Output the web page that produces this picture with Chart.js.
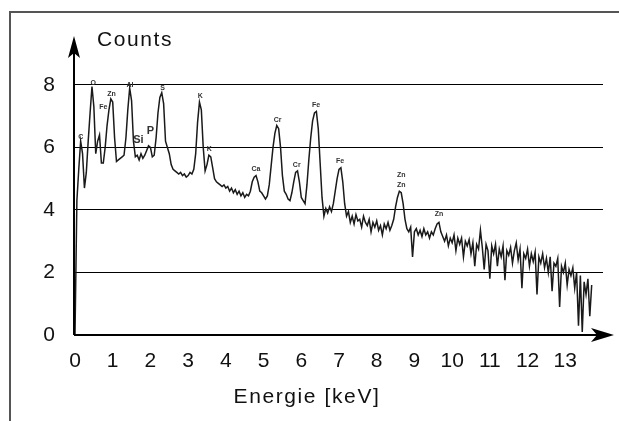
<!DOCTYPE html>
<html>
<head>
<meta charset="utf-8">
<script src="https://cdn.jsdelivr.net/npm/chart.js@4.4.1/dist/chart.umd.min.js"></script>
<style>
  html, body { margin: 0; padding: 0; background: #fff; }
  canvas { display: block; }
</style>
</head>
<body>
<canvas id="edx" width="619" height="421"></canvas>
<script>
// EDX spectrum, counts every 0.05 keV
const stepKeV = 0.05;
const counts = [
  // 0 - 1 keV
  0, 4.3, 5.3, 6.2, 5.8, 4.7, 5.2, 6.2, 7.1, 7.95, 7.3, 5.8, 6.2, 6.4, 5.5, 5.5, 6.0, 6.7, 7.2, 7.55,
  // 1 - 2 keV
  7.45, 6.3, 5.55, 5.6, 5.65, 5.7, 5.75, 6.3, 7.2, 7.9, 7.5, 6.2, 5.7, 5.75, 5.6, 5.8, 5.65, 5.75, 5.9, 6.05,
  // 2 - 3 keV
  6.0, 5.7, 5.75, 6.3, 7.1, 7.6, 7.75, 7.4, 6.2, 6.0, 5.8, 5.45, 5.3, 5.25, 5.2, 5.15, 5.2, 5.1, 5.15, 5.05,
  // 3 - 4 keV
  5.1, 5.2, 5.15, 5.3, 5.8, 6.8, 7.45, 7.2, 6.0, 5.25, 5.45, 5.75, 5.7, 5.35, 5.0, 4.9, 4.85, 4.8, 4.75, 4.8,
  // 4 - 5 keV
  4.7, 4.75, 4.6, 4.7, 4.55, 4.65, 4.5, 4.6, 4.45, 4.55, 4.4, 4.5, 4.45, 4.6, 4.9, 5.05, 5.1, 4.9, 4.6, 4.55,
  // 5 - 6 keV
  4.45, 4.35, 4.45, 4.8, 5.4, 6.0, 6.45, 6.7, 6.6, 6.0, 5.1, 4.6, 4.5, 4.35, 4.3, 4.55, 4.9, 5.2, 5.25, 4.9,
  // 6 - 7 keV
  4.4, 4.3, 4.2, 4.8, 5.6, 6.3, 6.85, 7.1, 7.15, 6.6, 5.5, 4.4, 3.8, 4.05, 3.9, 4.1, 3.95, 4.2, 4.6, 5.0,
  // 7 - 8 keV
  5.3, 5.35, 4.9, 4.2, 3.8, 3.95, 3.6, 3.8, 3.55, 3.85, 3.65, 3.7, 3.45, 3.8, 3.6, 3.5, 3.7, 3.3, 3.6, 3.45,
  // 8 - 9 keV
  3.65, 3.35, 3.5, 3.2, 3.55, 3.4, 3.6, 3.35, 3.5, 3.7, 4.1, 4.4, 4.6, 4.55, 4.2, 3.7, 3.4, 3.3, 3.45, 2.5,
  // 9 - 10 keV
  3.3, 3.4, 3.2, 3.35, 3.15, 3.4, 3.2, 3.3, 3.1, 3.3, 3.2, 3.4, 3.55, 3.6, 3.3, 3.15, 3.0, 3.2, 2.85, 3.1,
  // 10 - 11 keV
  2.95, 3.2, 2.7, 3.1, 2.9, 3.1, 2.5, 3.0, 2.85, 3.05, 2.6, 2.95, 2.2, 2.9, 2.75, 3.35, 2.8, 2.1, 2.9, 2.7,
  // 11 - 12 keV
  1.8, 2.85, 2.6, 2.9, 2.2, 2.75, 2.5, 2.85, 1.75, 2.7, 2.55, 2.8, 2.3, 2.7, 2.95, 2.4, 2.75, 1.5, 2.6, 2.45,
  // 12 - 13 keV
  2.75, 2.2, 2.6, 2.35, 2.65, 1.3, 2.5, 2.3, 2.6, 2.15, 2.45, 2.0, 2.5, 1.4, 2.3, 2.2, 2.45, 0.9, 2.2, 2.0,
  // 13 - 13.7 keV
  2.3, 1.6, 2.1, 1.9, 2.15, 1.5, 2.0, 0.3, 1.9, 0.1, 1.7, 1.3, 1.8, 0.6, 1.6
];

const xTicks = [0, 1, 2, 3, 4, 5, 6, 7, 8, 9, 10, 11, 12, 13];
const yTicks = [0, 2, 4, 6, 8];

// hand written peak names and where they sit (keV, counts)
const peakNames   = ['C', 'O', 'Fe', 'Zn', 'Al', 'Si', 'P', 'S', 'K', 'K', 'Ca', 'Cr', 'Cr', 'Fe', 'Fe', 'Zn', 'Zn', 'Zn'];
const peakEnergy  = [0.15, 0.48, 0.75, 0.97, 1.46, 1.68, 2.0, 2.32, 3.32, 3.56, 4.8, 5.37, 5.88, 6.39, 7.03, 8.65, 8.65, 9.65];
const peakCounts  = [6.34, 8.07, 7.3, 7.73, 8.0, 6.19, 6.47, 7.9, 7.65, 5.97, 5.33, 6.9, 5.44, 7.36, 5.57, 5.12, 4.82, 3.89];
const peakBig     = [false, false, false, false, false, true, true, false, false, false, false, false, false, false, false, false, false, false];

const points = counts.map((c, i) => ({ x: i * stepKeV, y: c }));
const font = '"Liberation Sans", Arial, sans-serif';

function arrowHead(ctx, tipX, tipY, dir) {
  // barbed arrow, dir 'up' or 'right'
  ctx.beginPath();
  if (dir == 'up') {
    ctx.moveTo(tipX, tipY);
    ctx.lineTo(tipX + 6, tipY + 22);
    ctx.lineTo(tipX, tipY + 17);
    ctx.lineTo(tipX - 6, tipY + 22);
  } else {
    ctx.moveTo(tipX, tipY);
    ctx.lineTo(tipX - 23, tipY + 7);
    ctx.lineTo(tipX - 17, tipY);
    ctx.lineTo(tipX - 23, tipY - 7);
  }
  ctx.closePath();
  ctx.fill();
}

const decorations = {
  id: 'decorations',
  beforeDraw(chart) {
    let ctx = chart.ctx;
    ctx.save();
    ctx.fillStyle = '#fff';
    ctx.fillRect(0, 0, chart.width, chart.height);
    // outer frame (top and left only are visible)
    ctx.strokeStyle = '#555';
    ctx.lineWidth = 2;
    ctx.beginPath();
    ctx.moveTo(10, 421);
    ctx.lineTo(10, 12);
    ctx.lineTo(619, 12);
    ctx.stroke();
    ctx.restore();
  },
  afterDraw(chart) {
    let ctx = chart.ctx;
    let xs = chart.scales.x, ys = chart.scales.y;
    let x0 = xs.getPixelForValue(0) - 1;
    let y0 = ys.getPixelForValue(0);
    ctx.save();
    ctx.strokeStyle = '#000';
    ctx.fillStyle = '#000';
    ctx.lineWidth = 2;
    ctx.beginPath();
    ctx.moveTo(x0, y0);
    ctx.lineTo(x0, 50);
    ctx.moveTo(x0, y0);
    ctx.lineTo(600, y0);
    ctx.stroke();
    arrowHead(ctx, x0, 36, 'up');
    arrowHead(ctx, 614, y0, 'right');

    // titles
    ctx.font = '21px ' + font;
    ctx.letterSpacing = '1.6px';
    ctx.textBaseline = 'middle';
    ctx.fillStyle = '#111';
    ctx.textAlign = 'left';
    ctx.fillText('Counts', 97, 40);
    ctx.textAlign = 'center';
    ctx.fillText('Energie [keV]', 307, 397);
    ctx.letterSpacing = '0px';

    // peak names
    ctx.fillStyle = '#333';
    ctx.textBaseline = 'bottom';
    for (var i = 0; i < peakNames.length; i++) {
      ctx.font = (peakBig[i] ? 'bold 11px ' : 'bold 7px ') + font;
      ctx.fillText(peakNames[i], xs.getPixelForValue(peakEnergy[i]), ys.getPixelForValue(peakCounts[i]) + 4);
    }
    ctx.restore();
  }
};

new Chart(document.getElementById('edx'), {
  type: 'line',
  data: {
    datasets: [{
      data: points,
      borderColor: '#1a1a1a',
      borderWidth: 1.5,
      pointRadius: 0,
      tension: 0,
      fill: false
    }]
  },
  options: {
    responsive: false,
    animation: false,
    devicePixelRatio: 1,
    layout: { padding: { left: 15, right: 16, top: 38, bottom: 0 } },
    plugins: { legend: { display: false }, tooltip: { enabled: false } },
    scales: {
      x: {
        type: 'linear',
        min: 0,
        max: 14,
        afterBuildTicks: s => { s.ticks = xTicks.map(v => ({ value: v })); },
        afterFit: s => { s.height = 86; },
        grid: { display: false },
        border: { display: false },
        ticks: { color: '#111', font: { family: font, size: 21 }, padding: 6, maxRotation: 0, autoSkip: false }
      },
      y: {
        min: 0,
        max: 9.5,
        afterBuildTicks: s => { s.ticks = yTicks.map(v => ({ value: v })); },
        afterFit: s => { s.width = 60; },
        grid: { color: '#000', lineWidth: 1, drawTicks: false },
        border: { display: false },
        ticks: { color: '#111', font: { family: font, size: 21 }, padding: 20 }
      }
    }
  },
  plugins: [decorations]
});
</script>
</body>
</html>
